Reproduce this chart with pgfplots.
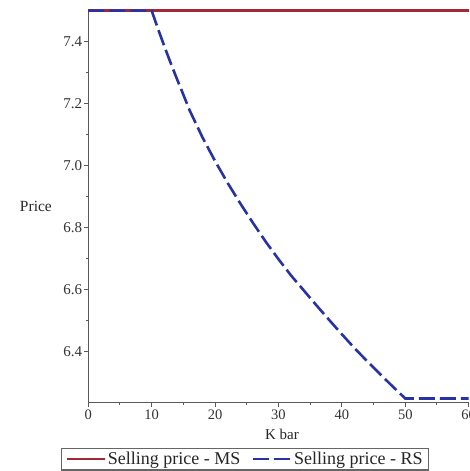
\documentclass[border=0pt]{standalone}
\usepackage{pgfplots}
\pgfplotsset{compat=1.18}
\usepackage{fontspec}
\setmainfont{Liberation Serif}
\definecolor{msred}{RGB}{160,40,55}
\definecolor{rsblue}{RGB}{40,50,165}
\begin{document}
\begin{tikzpicture}
\begin{axis}[
  at={(0pt,0pt)}, anchor=south west,
  scale only axis,
  width=380.4pt, height=392pt,
  xmin=0, xmax=60, ymin=6.2365, ymax=7.5,
  axis lines=left,
  axis line style={-, draw=black!65, line width=1.2pt},
  tick style={draw=black!65, line width=1pt},
  tick align=outside,
  major tick length=4pt, minor tick length=2.5pt,
  xtick={0,10,...,60}, minor x tick num=1,
  ytick={6.4,6.6,6.8,7.0,7.2,7.4}, minor y tick num=1,
  /pgf/number format/assume math mode=true,
  yticklabel style={/pgf/number format/.cd, fixed, fixed zerofill, precision=1, /tikz/.cd, inner sep=2pt, font=\fontsize{15}{17}\selectfont, text=black!80},
  xticklabel style={inner sep=3pt, font=\fontsize{14.5}{17}\selectfont, text=black!80},
  xlabel={K bar},
  xlabel style={at={(axis description cs:0.509,-0.0926)}, anchor=base, font=\fontsize{15}{18}\selectfont, text=black!85},
  ylabel={Price},
  ylabel style={at={(axis description cs:-0.0866,0.5)}, anchor=east, rotate=-90, font=\fontsize{15.5}{18}\selectfont, text=black!85},
  legend columns=2,
  legend image code/.code={\draw[#1] (0pt,0pt) -- (38pt,0pt);},
  legend style={at={(axis description cs:-0.0726,-0.1143)}, anchor=north west,
    draw=black!60, line width=1.3pt, font=\fontsize{18}{21}\selectfont, text=black!85,
    inner xsep=4pt, inner ysep=2pt,
    /tikz/every even column/.append style={column sep=9pt}},
  clip=false,
]
\addplot[msred, line width=2.6pt] coordinates {(0,7.5) (60,7.5)};
\addlegendentry{Selling price - MS}
\addplot[rsblue, line width=2.6pt, dash pattern=on 16pt off 5pt] coordinates {
(0,7.5) (10,7.5) (11,7.441) (12,7.385) (13,7.331) (14,7.279) (15,7.229)
(16,7.178) (18,7.092) (20,7.015) (22,6.944) (24,6.878) (26,6.815) (28,6.755)
(30,6.699) (32,6.646) (34,6.598) (36,6.550) (38,6.503) (40,6.457) (42,6.412)
(44,6.370) (46,6.329) (48,6.289) (50,6.25) (60,6.25)};
\addlegendentry{Selling price - RS}
\end{axis}
\pgfresetboundingbox
\path (-88.3pt,-68.3pt) rectangle (380.7pt,402.7pt);
\end{tikzpicture}
\end{document}
